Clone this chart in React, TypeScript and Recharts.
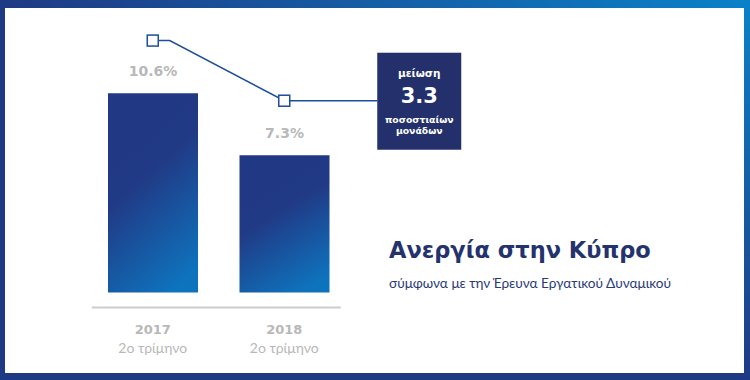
import { ComposedChart, Bar, Line, XAxis, YAxis, LabelList } from 'recharts'

const periods = ['2017', '2018']
const quarters = ['2ο τρίμηνο', '2ο τρίμηνο']
const unemployment = [10.6, 7.3]
// decorative marker line drawn above the bars
const markerLevels = [13.4, 10.2]
const dropLabel = ['μείωση', '3.3', 'ποσοστιαίων', 'μονάδων']

const rows = periods.map((p, i) => ({
  period: p,
  quarter: quarters[i],
  rate: unemployment[i],
  marker: markerLevels[i],
}))

const NAVY = '#23306b'
const LINE_BLUE = '#1d4f9c'
const GREY = '#b8b8b8'

// d3 curve: short stub right of the first point, diagonal, then run to the box
const stubCurve = (context: any) => {
  let pts: [number, number][] = []
  return {
    areaStart() {},
    areaEnd() {},
    lineStart() {
      pts = []
    },
    lineEnd() {
      if (pts.length < 2) return
      const [a, b] = pts
      context.moveTo(a[0], a[1])
      context.lineTo(a[0] + 17, a[1])
      context.lineTo(b[0], b[1])
      context.lineTo(b[0] + 93, b[1])
    },
    point(x: number, y: number) {
      pts.push([x, y])
    },
  }
}

const MarkerDot = (props: any) => {
  const { cx, cy, index } = props
  const sq = (
    <rect x={cx - 5.5} y={cy - 5.5} width={11} height={11} fill="#fff" stroke={LINE_BLUE} strokeWidth={1.5} />
  )
  if (index !== rows.length - 1) return <g key={`d${index}`}>{sq}</g>
  const bx = cx + 93
  const by = cy - 48
  const mid = bx + 42
  return (
    <g key={`d${index}`}>
      {sq}
      <rect x={bx} y={by} width={84} height={97} fill={NAVY} />
      <text x={mid} y={by + 24} textAnchor="middle" fill="#fff" fontFamily="DejaVu Sans" fontWeight={700} fontSize={10.5}>
        {dropLabel[0]}
      </text>
      <text x={mid} y={by + 50} textAnchor="middle" fill="#fff" fontFamily="DejaVu Sans" fontWeight={700} fontSize={21}>
        {dropLabel[1]}
      </text>
      <text x={mid} y={by + 70} textAnchor="middle" fill="#fff" fontFamily="DejaVu Sans" fontWeight={700} fontSize={9.3}>
        {dropLabel[2]}
      </text>
      <text x={mid} y={by + 81} textAnchor="middle" fill="#fff" fontFamily="DejaVu Sans" fontWeight={700} fontSize={9.3}>
        {dropLabel[3]}
      </text>
    </g>
  )
}

const PeriodTick = (props: any) => {
  const { x, y, payload, index } = props
  return (
    <g>
      <text x={x} y={y + 26.5} textAnchor="middle" fill={GREY} fontFamily="DejaVu Sans" fontWeight={700} fontSize={13}>
        {payload.value}
      </text>
      <text x={x} y={y + 45.5} textAnchor="middle" fill={GREY} fontFamily="Lato" fontSize={14}>
        {quarters[index]}
      </text>
    </g>
  )
}

export default function App() {
  return (
    <div
      style={{
        position: 'absolute',
        left: 0,
        top: 0,
        width: 750,
        height: 380,
        background: 'linear-gradient(to bottom left, #0a82c8 0%, #1f3a84 50%, #1f3a84 100%)',
      }}
    >
      <div style={{ position: 'absolute', left: 5, top: 8, right: 6, bottom: 7, background: '#fff' }} />
      <div style={{ position: 'absolute', left: 0, top: 0 }}>
        <ComposedChart width={750} height={380} data={rows} margin={{ top: 10.5, right: 400, bottom: 12.5, left: 87 }}>
          <defs>
            <linearGradient id="barGrad" x1="0.3" y1="0" x2="0.7" y2="1">
              <stop offset="0%" stopColor="#213884" />
              <stop offset="40%" stopColor="#213a86" />
              <stop offset="100%" stopColor="#0e73bd" />
            </linearGradient>
          </defs>
          <XAxis
            dataKey="period"
            height={60}
            tickSize={0}
            tickMargin={0}
            tickLine={false}
            axisLine={{ stroke: '#cccccc', strokeWidth: 2, strokeDasharray: '0 4.75 249 1000' }}
            tick={<PeriodTick />}
            interval={0}
          />
          <YAxis hide domain={[-0.8, 15]} />
          <Bar dataKey="rate" barSize={90} fill="url(#barGrad)" isAnimationActive={false}>
            <LabelList
              dataKey="rate"
              position="top"
              offset={17}
              formatter={(v: any) => `${v}%`}
              fill={GREY}
              fontFamily="DejaVu Sans"
              fontWeight={700}
              fontSize={14}
            />
          </Bar>
          <Line
            dataKey="marker"
            type={stubCurve as any}
            stroke={LINE_BLUE}
            strokeWidth={1.5}
            dot={<MarkerDot />}
            activeDot={false}
            isAnimationActive={false}
          />
        </ComposedChart>
      </div>
      <div
        style={{
          position: 'absolute',
          left: 389,
          top: 239,
          fontFamily: 'DejaVu Sans',
          fontWeight: 700,
          fontSize: 22.5,
          lineHeight: 1,
          color: '#24336e',
          whiteSpace: 'nowrap',
        }}
      >
        Ανεργία στην Κύπρο
      </div>
      <div
        style={{
          position: 'absolute',
          left: 389,
          top: 277,
          fontFamily: 'Lato',
          fontSize: 13.6,
          lineHeight: 1,
          color: '#2a3a78',
          whiteSpace: 'nowrap',
        }}
      >
        σύμφωνα με την Έρευνα Εργατικού Δυναμικού
      </div>
    </div>
  )
}
